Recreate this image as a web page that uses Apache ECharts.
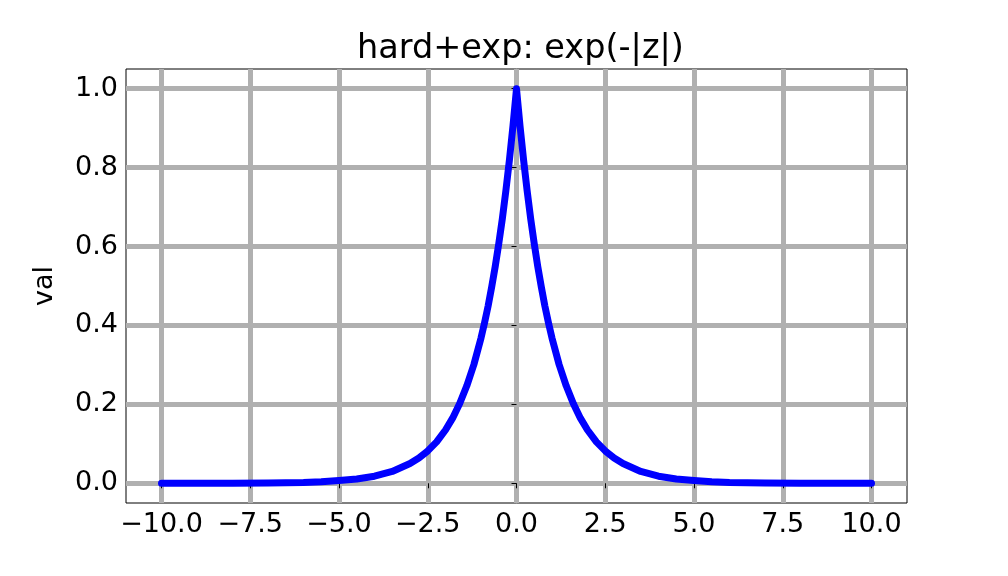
<!DOCTYPE html>
<html>
<head>
<meta charset="utf-8">
<script src="https://cdn.jsdelivr.net/npm/echarts@6/dist/echarts.min.js"></script>
<style>
  html, body { margin: 0; padding: 0; background: #fff; }
  #chart { width: 1008px; height: 576px; }
</style>
</head>
<body>
<div id="chart"></div>
<script>
// values
const zVals = [-10, -9, -8, -7, -6, -5.5, -5, -4.5, -4, -3.5, -3, -2.75, -2.5, -2.25, -2, -1.8, -1.6, -1.4, -1.2,
  -1, -0.9, -0.8, -0.7, -0.6, -0.5, -0.4, -0.3, -0.2, -0.1,
  0, 0.1, 0.2, 0.3, 0.4, 0.5, 0.6, 0.7, 0.8, 0.9, 1,
  1.2, 1.4, 1.6, 1.8, 2, 2.25, 2.5, 2.75, 3, 3.5, 4, 4.5, 5, 5.5, 6, 7, 8, 9, 10]
const valVals = [0.000, 0.000, 0.000, 0.001, 0.002, 0.004, 0.007, 0.011, 0.018, 0.030, 0.050, 0.064, 0.082, 0.105, 0.135, 0.165, 0.202, 0.247, 0.301,
  0.368, 0.407, 0.449, 0.497, 0.549, 0.607, 0.670, 0.741, 0.819, 0.905,
  1.000, 0.905, 0.819, 0.741, 0.670, 0.607, 0.549, 0.497, 0.449, 0.407, 0.368,
  0.301, 0.247, 0.202, 0.165, 0.135, 0.105, 0.082, 0.064, 0.050, 0.030, 0.018, 0.011, 0.007, 0.004, 0.002, 0.001, 0.000, 0.000, 0.000]
const xTicks = [-10, -7.5, -5, -2.5, 0, 2.5, 5, 7.5, 10]
const yTicks = [0, 0.2, 0.4, 0.6, 0.8, 1.0]

const font = 'DejaVu Sans'
const fmt = v => v.toFixed(1).replace('-', '\u2212')

const chart = echarts.init(document.getElementById('chart'))
chart.setOption({
  animation: false,
  backgroundColor: '#fff',
  title: {
    text: 'hard+exp: exp(-|z|)',
    left: 352,
    top: 27,
    textStyle: { fontFamily: font, fontSize: 33.5, fontWeight: 'normal', color: '#000' }
  },
  grid: {
    left: 126, right: 101, top: 69, bottom: 73,
    show: true, borderColor: '#000', borderWidth: 1, backgroundColor: 'transparent'
  },
  xAxis: {
    type: 'value',
    min: -11, max: 11,
    axisLine: { show: false },
    axisTick: { show: true, customValues: xTicks, length: 5, lineStyle: { color: '#000', width: 1 } },
    axisLabel: {
      customValues: xTicks, formatter: fmt, margin: 8,
      fontFamily: font, fontSize: 27, color: '#000'
    },
    splitLine: { show: true, lineStyle: { color: '#b0b0b0', width: 5 } }
  },
  yAxis: {
    type: 'value',
    min: -0.05, max: 1.05,
    name: 'val',
    nameLocation: 'middle',
    nameGap: 68,
    nameTextStyle: { fontFamily: font, fontSize: 27, color: '#000' },
    axisLine: { show: false },
    axisTick: { show: true, customValues: yTicks, length: 5, lineStyle: { color: '#000', width: 1 } },
    axisLabel: {
      customValues: yTicks, formatter: fmt, margin: 8,
      fontFamily: font, fontSize: 27, color: '#000'
    },
    splitLine: { show: true, lineStyle: { color: '#b0b0b0', width: 5 } }
  },
  series: [{
    type: 'line',
    data: zVals.map((z, i) => [z, valVals[i]]),
    showSymbol: false,
    smooth: false,
    lineStyle: { color: '#0000ff', width: 7, cap: 'round', join: 'round' },
    z: 5
  }]
})
</script>
</body>
</html>
